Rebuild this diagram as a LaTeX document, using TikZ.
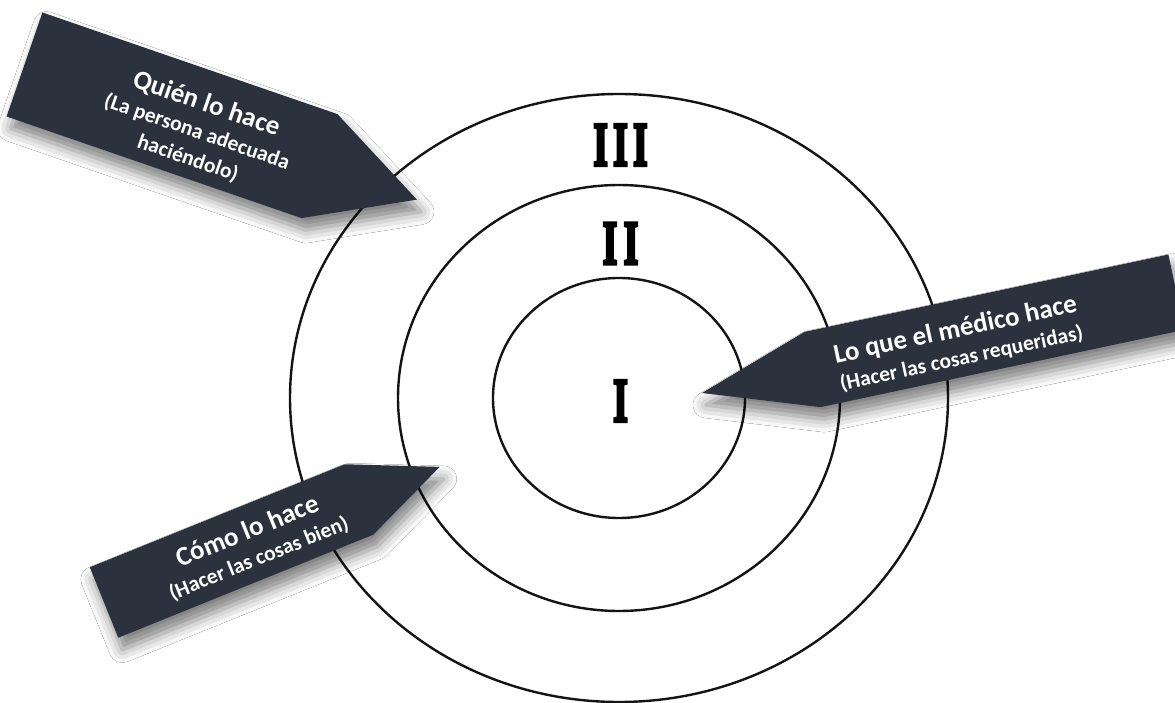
\documentclass[tikz,border=0pt]{standalone}
\usepackage{fontspec}
\setmainfont{Liberation Serif}
\newfontfamily\labelfont{Carlito}
\newfontfamily\numfont{Liberation Serif Bold}[FakeBold=6]
\usepackage{xcolor}
\usepackage{tikz}
\usetikzlibrary{shadows.blur}
\definecolor{slate}{HTML}{2B323D}
\definecolor{ring}{HTML}{141414}
\newcommand{\arrowtitle}{\labelfont\bfseries\fontsize{27}{29}\selectfont}
\newcommand{\arrowsub}{\labelfont\bfseries\fontsize{21.5}{28}\selectfont}
\newcommand{\numeral}[1]{\scalebox{0.6}[1]{\numfont\fontsize{62}{62}\selectfont #1}}

\begin{document}
\begin{tikzpicture}[x=1pt,y=-1pt,
    ringline/.style={draw=ring, line width=2.4pt},
    pointer/.style={fill=slate, blur shadow={shadow xshift=4pt, shadow yshift=-12pt,
      shadow blur radius=13pt, shadow opacity=50}},
    caption/.style={text=white, align=center, inner sep=0pt, font=\arrowsub, transform shape}]
  \useasboundingbox (0,0) rectangle (1175,703);
  \fill[white] (0,0) rectangle (1175,703);
  \coordinate (mid) at (619,398);
  \draw[ringline] (mid) ellipse [x radius=329, y radius=304];
  \draw[ringline] (mid) ellipse [x radius=221, y radius=213];
  \draw[ringline] (mid) ellipse [x radius=126, y radius=120];
  \node (three) at (620.5,145) {\numeral{I\kern9pt I\kern9pt I}};
  \node (two) at (620.5,243.5) {\numeral{I\kern11pt I}};
  \node (one) at (620.5,401) {\numeral{I}};
  \begin{scope}[shift={(24.5,64.5)}, rotate=-19]
    \fill[pointer] (0,-55) -- (312,-55) -- (415,0) -- (312,55) -- (0,55) -- cycle;
    \node[caption] (who) at (185,6) {{\arrowtitle Quién lo hace}\\
      (La persona adecuada\\haciéndolo)};
  \end{scope}
  \begin{scope}[shift={(702,393)}, rotate=12]
    \fill[pointer] (0,0) -- (113,-38.5) -- (485,-38.5) -- (485,38.5) -- (113,38.5) -- cycle;
    \node[caption] (what) at (261,5) {{\arrowtitle Lo que el médico hace}\\
      (Hacer las cosas requeridas)};
  \end{scope}
  \begin{scope}[shift={(104,602.5)}, rotate=22]
    \fill[pointer] (0,-38) -- (275,-38) -- (362,0) -- (275,38) -- (0,38) -- cycle;
    \node[caption] (how) at (160,2) {{\arrowtitle Cómo lo hace}\\
      (Hacer las cosas bien)};
  \end{scope}
\end{tikzpicture}
\end{document}
